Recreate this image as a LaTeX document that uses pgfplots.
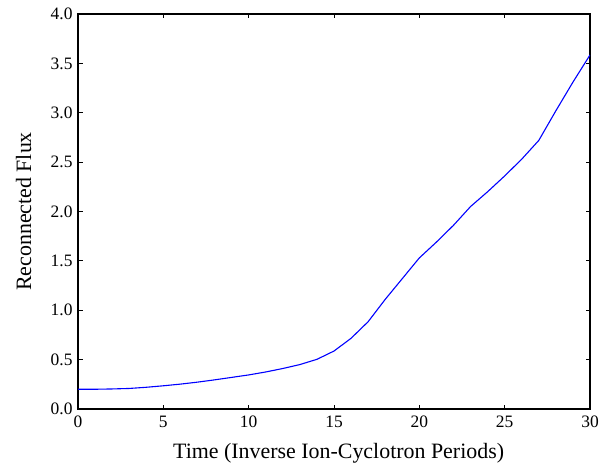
\documentclass[border=0pt]{standalone}
\usepackage{pgfplots}
\pgfplotsset{compat=1.18}
\usepackage{fontspec}
\setmainfont{Liberation Serif}
\begin{document}
\begin{tikzpicture}
\begin{axis}[
  scale only axis,
  width=512bp, height=395bp,
  xmin=0, xmax=30, ymin=0, ymax=4,
  xtick={0,5,...,30},
  ytick={0,0.5,...,4},
  yticklabel style={xshift=-2bp, /pgf/number format/.cd,fixed,fixed zerofill,precision=1},
  /pgf/number format/assume math mode=true,
  tick align=inside,
  tick pos=both,
  major tick length=4.5bp,
  axis line style={line width=1.1bp},
  every tick/.style={black, line width=0.8bp},
  ticklabel style={font=\fontsize{17.5}{20}\selectfont},
  xticklabel style={yshift=-3.5bp},
  label style={font=\fontsize{22}{26}\selectfont},
  xlabel={Time (Inverse Ion-Cyclotron Periods)},
  ylabel={Reconnected Flux},
  xlabel style={at={(axis description cs:0.509,-0.112)}, anchor=center},
  ylabel style={at={(axis description cs:-0.106,0.5)}, anchor=center, rotate=0},
]
\addplot[color={rgb,255:red,0;green,0;blue,255}, line width=1.1bp, mark=none] coordinates {
(0,0.200) (1,0.200) (2,0.203) (3,0.208) (4,0.220) (5,0.235) (6,0.252)
(7,0.272) (8,0.295) (9,0.320) (10,0.345) (11,0.375) (12,0.410)
(13,0.450) (14,0.503) (15,0.587) (16,0.716) (17,0.884) (18,1.110)
(19,1.320) (20,1.530) (21,1.690) (22,1.860) (23,2.050) (24,2.200)
(25,2.360) (26,2.530) (27,2.720) (28,3.020) (29,3.310) (30,3.585)
};
\end{axis}
\pgfresetboundingbox
\path (current axis.south west) ++(-78bp,-56bp) coordinate (bl);
\path (current axis.north east) ++(15bp,14bp) coordinate (tr);
\path[use as bounding box] (bl) rectangle (tr);
\end{tikzpicture}
\end{document}
